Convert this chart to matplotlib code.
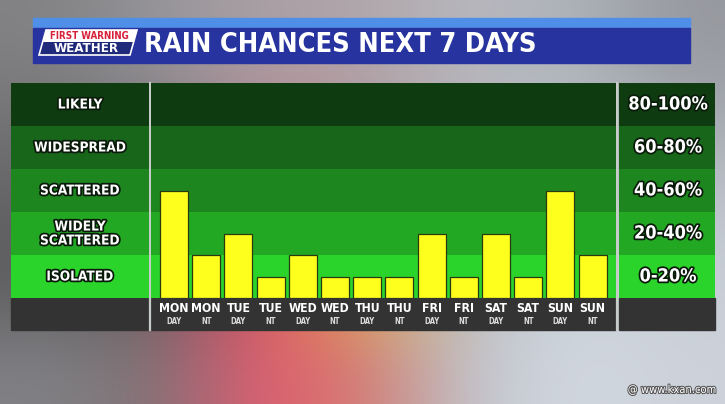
import numpy as np
import matplotlib
matplotlib.use("Agg")
import matplotlib.pyplot as plt
import matplotlib.patheffects as pe
from matplotlib.patches import Rectangle, Polygon

# ── data ──────────────────────────────────────────────────────────────────────
days = ["MON", "MON", "TUE", "TUE", "WED", "WED", "THU", "THU",
        "FRI", "FRI", "SAT", "SAT", "SUN", "SUN"]
periods = ["DAY", "NT"] * 7
rain_chance = [50, 20, 30, 10, 20, 10, 10, 10, 30, 10, 30, 10, 50, 20]

band_edges = [0, 20, 40, 60, 80, 100]
band_names = ["ISOLATED", "WIDELY\nSCATTERED", "SCATTERED", "WIDESPREAD", "LIKELY"]
band_ranges = ["0-20%", "20-40%", "40-60%", "60-80%", "80-100%"]
band_colors = ["#2bd42b", "#22a823", "#1d861e", "#17661a", "#0e3c10"]

TITLE = "RAIN CHANCES NEXT 7 DAYS"

plt.rcParams["font.family"] = ["DejaVu Sans"]
plt.rcParams["font.stretch"] = "condensed"

W, H = 725, 404
fig = plt.figure(figsize=(W / 100, H / 100), dpi=100)


def px_axes(x0, y0, x1, y1, **kw):
    """axes placed by pixel box (top-left origin)."""
    return fig.add_axes([x0 / W, 1 - y1 / H, (x1 - x0) / W, (y1 - y0) / H], **kw)


# ── blurry photo background (decoration only) ────────────────────────────────
bg = px_axes(0, 0, W, H)
bg.set_xlim(0, W)
bg.set_ylim(H, 0)
bg.axis("off")
grid = np.array([
    [[130, 130, 132], [150, 150, 155], [170, 160, 165], [175, 165, 170], [185, 185, 190], [175, 180, 188], [150, 152, 158]],
    [[115, 115, 118], [125, 125, 128], [185, 140, 150], [175, 150, 155], [180, 182, 188], [185, 190, 198], [165, 170, 176]],
    [[100, 100, 102], [105, 102, 105], [200, 110, 125], [190, 140, 110], [185, 188, 195], [200, 205, 212], [190, 196, 204]],
    [[90, 90, 92], [95, 90, 92], [225, 70, 100], [225, 190, 60], [180, 185, 192], [205, 212, 220], [200, 206, 214]],
    [[130, 130, 134], [125, 115, 118], [230, 90, 115], [210, 120, 110], [190, 196, 204], [212, 218, 226], [205, 210, 218]],
]) / 255.0
bg.imshow(grid, extent=(0, W, H, 0), interpolation="bicubic", aspect="auto")

# ── header bar ───────────────────────────────────────────────────────────────
bg.add_patch(Rectangle((33, 18), 657, 10, color="#4f8fe8", zorder=2))
bg.add_patch(Rectangle((33, 28), 657, 35, color="#27339e", zorder=2))
# logo
bg.add_patch(Polygon([(46, 30), (137, 30), (130, 55), (39, 55)], closed=True,
                     facecolor="#1f2a7a", edgecolor="white", lw=1.2, zorder=3))
bg.add_patch(Polygon([(46, 30), (137, 30), (134, 42), (43, 42)], closed=True,
                     facecolor="white", zorder=3))
bg.text(89, 36.3, "FIRST WARNING", color="#d8203a", fontsize=7, fontweight="bold",
        ha="center", va="center", zorder=4)
bg.text(86, 48.8, "WEATHER", color="white", fontsize=9.5, fontweight="bold",
        ha="center", va="center", zorder=4)
bg.text(144, 45, TITLE, color="white", fontsize=19.5, fontweight="bold",
        ha="left", va="center", zorder=4)
bg.text(716, 390, "@ www.kxan.com", color="white", fontsize=8, ha="right", va="center",
        path_effects=[pe.withStroke(linewidth=1.5, foreground="#555555")], zorder=4)

# ── panel geometry (pixels) ──────────────────────────────────────────────────
PANEL_TOP, BAND_BOTTOM, PANEL_BOTTOM = 83, 298, 330
LEFT_X0, LEFT_X1 = 11, 149
CHART_X0, CHART_X1 = 151, 616
RIGHT_X0, RIGHT_X1 = 619, 715

outline = [pe.withStroke(linewidth=2.5, foreground="#0a1a0a")]

ax_left = px_axes(LEFT_X0, PANEL_TOP, LEFT_X1, BAND_BOTTOM)
ax = px_axes(CHART_X0, PANEL_TOP, CHART_X1, BAND_BOTTOM)
ax_right = px_axes(RIGHT_X0, PANEL_TOP, RIGHT_X1, BAND_BOTTOM)

for a in (ax_left, ax, ax_right):
    a.set_ylim(0, 100)
    a.set_xlim(0, 1)
    for lo, hi, c in zip(band_edges[:-1], band_edges[1:], band_colors):
        a.axhspan(lo, hi, color=c, lw=0, zorder=0)
    a.set_xticks([])
    a.set_yticks([])
    for s in a.spines.values():
        s.set_visible(False)

for lo, hi, name, rng in zip(band_edges[:-1], band_edges[1:], band_names, band_ranges):
    mid = (lo + hi) / 2
    ax_left.text(0.5, mid, name, color="white", fontsize=9.8, fontweight="bold",
                 ha="center", va="center", linespacing=1.0, path_effects=outline)
    ax_right.text(0.51, mid, rng, color="white", fontsize=13, fontweight="bold",
                  ha="center", va="center", path_effects=outline)

# bars
slot = 32.2
x = np.arange(len(rain_chance))
ax.set_xlim(-23 / slot, (CHART_X1 - CHART_X0 - 23) / slot)
ax.bar(x, rain_chance, width=0.87, color="#ffff1e", edgecolor="#2a3a10",
       linewidth=0.9, zorder=3)

# bottom dark strip with day labels
for x0, x1 in ((LEFT_X0, LEFT_X1), (CHART_X0, CHART_X1), (RIGHT_X0, RIGHT_X1)):
    bg.add_patch(Rectangle((x0, BAND_BOTTOM), x1 - x0, PANEL_BOTTOM - BAND_BOTTOM,
                           color="#333333", zorder=2))
# divider lines
for xd in (LEFT_X1 + 1, CHART_X1 + 1.5):
    bg.plot([xd, xd], [PANEL_TOP, PANEL_BOTTOM], color="#c8ccc8", lw=1.6, zorder=5)

day_trans = matplotlib.transforms.blended_transform_factory(ax.transData, bg.transData)
for xi, d, p in zip(x, days, periods):
    bg.text(xi, 309, d, transform=day_trans, color="white", fontsize=8.8, fontweight="bold",
            ha="center", va="center", zorder=6)
    bg.text(xi, 321, p, transform=day_trans, color="#dddddd", fontsize=5.5, fontweight="bold",
            ha="center", va="center", zorder=6)

fig.savefig("out.png", dpi=100)
